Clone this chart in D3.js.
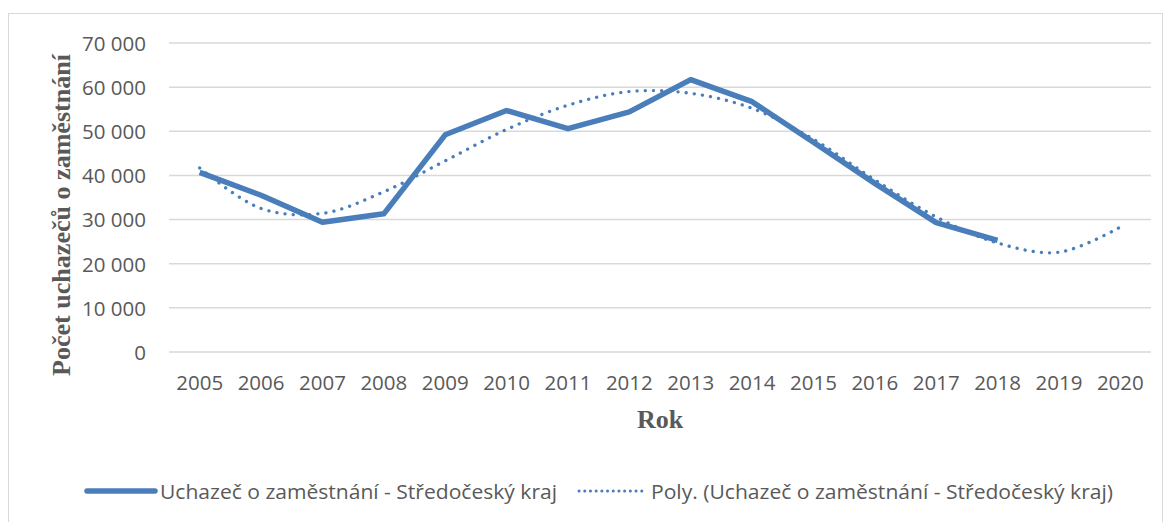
<!DOCTYPE html>
<html>
<head>
<meta charset="utf-8">
<script src="https://cdn.jsdelivr.net/npm/d3@7"></script>
<style>
  body { margin: 0; background: #fff; }
  text { font-family: "Open Sans", sans-serif; fill: #595959; }
</style>
</head>
<body>
<script>
// Width and height
var w = 1170;
var h = 522;

// Data
var years = ["2005", "2006", "2007", "2008", "2009", "2010", "2011", "2012",
             "2013", "2014", "2015", "2016", "2017", "2018", "2019", "2020"];
var uchazeci = [40700, 35500, 29400, 31300, 49200, 54700, 50600, 54400,
                61700, 56700, 47500, 38200, 29300, 25300];
var trend = [41700, 32500, 31400, 36300, 43300, 50400, 55900, 59000,
             58600, 55200, 48200, 39000, 30600, 24700, 22600, 28300];
var yTicks = [0, 10000, 20000, 30000, 40000, 50000, 60000, 70000];

var seriesName = "Uchazeč o zaměstnání - Středočeský kraj";
var trendName = "Poly. (Uchazeč o zaměstnání - Středočeský kraj)";

var blue = "#4a7ebb";

var svg = d3.select("body")
    .append("svg")
    .attr("width", w)
    .attr("height", h);

// chart border
svg.append("rect")
    .attr("x", 8.5).attr("y", 13.5)
    .attr("width", 1154).attr("height", 530)
    .attr("fill", "none")
    .attr("stroke", "#d9d9d9");

// scales
var x = d3.scaleBand()
    .domain(years)
    .range([169, 1151]);

var y = d3.scaleLinear()
    .domain([0, 70000])
    .range([352, 43]);

var fmt = function (v) {
    return d3.format(",")(v).replace(/,/g, " ");
};

// gridlines
svg.append("g")
    .selectAll("line")
    .data(yTicks)
    .enter()
    .append("line")
    .attr("x1", 169)
    .attr("x2", 1151)
    .attr("y1", function (d) { return y(d); })
    .attr("y2", function (d) { return y(d); })
    .attr("stroke", "#d9d9d9")
    .attr("stroke-width", 1.5);

// y axis labels
var yAxis = svg.append("g")
    .attr("transform", "translate(146,0)")
    .call(d3.axisLeft(y).tickValues(yTicks).tickFormat(fmt).tickSize(0).tickPadding(0));
yAxis.select(".domain").remove();
yAxis.selectAll("text")
    .style("font-family", "'Open Sans', sans-serif")
    .style("font-size", "20.5px")
    .attr("fill", "#595959")
    .attr("dy", "0.36em");

// x axis labels
var xAxis = svg.append("g")
    .attr("transform", "translate(0,375)")
    .call(d3.axisBottom(x).tickSize(0).tickPadding(0));
xAxis.select(".domain").remove();
xAxis.selectAll("text")
    .style("font-family", "'Open Sans', sans-serif")
    .style("font-size", "20.5px")
    .attr("fill", "#595959")
    .attr("dy", "0.71em");

// axis titles
svg.append("text")
    .attr("transform", "translate(70,215) rotate(-90)")
    .attr("text-anchor", "middle")
    .style("font-family", "'Liberation Serif', serif")
    .style("font-weight", "bold")
    .style("font-size", "26px")
    .attr("textLength", 322)
    .attr("lengthAdjust", "spacingAndGlyphs")
    .text("Počet uchazečů o zaměstnání");

svg.append("text")
    .attr("x", 660)
    .attr("y", 428)
    .attr("text-anchor", "middle")
    .style("font-family", "'Liberation Serif', serif")
    .style("font-weight", "bold")
    .style("font-size", "26px")
    .text("Rok");

var cx = function (d, i) { return x(years[i]) + x.bandwidth() / 2; };

// trend line (dotted)
var trendLine = d3.line()
    .x(cx)
    .y(function (d) { return y(d); })
    .curve(d3.curveCatmullRom.alpha(0.5));

svg.append("path")
    .datum(trend)
    .attr("d", trendLine)
    .attr("fill", "none")
    .attr("stroke", blue)
    .attr("stroke-width", 3.3)
    .attr("stroke-linecap", "round")
    .attr("stroke-dasharray", "0.1,8.1");

// data line
var line = d3.line()
    .x(cx)
    .y(function (d) { return y(d); });

svg.append("path")
    .datum(uchazeci)
    .attr("d", line)
    .attr("fill", "none")
    .attr("stroke", blue)
    .attr("stroke-width", 5.5)
    .attr("stroke-linejoin", "round")
    .attr("stroke-linecap", "butt");

// legend
var legend = svg.append("g");

legend.append("line")
    .attr("x1", 87).attr("x2", 155)
    .attr("y1", 491).attr("y2", 491)
    .attr("stroke", blue)
    .attr("stroke-width", 5.5)
    .attr("stroke-linecap", "round");

legend.append("text")
    .attr("x", 160)
    .attr("y", 499)
    .style("font-size", "20px")
    .attr("textLength", 397)
    .attr("lengthAdjust", "spacingAndGlyphs")
    .text(seriesName);

legend.append("line")
    .attr("x1", 579).attr("x2", 647)
    .attr("y1", 491).attr("y2", 491)
    .attr("stroke", blue)
    .attr("stroke-width", 3)
    .attr("stroke-linecap", "round")
    .attr("stroke-dasharray", "0.1,5.6");

legend.append("text")
    .attr("x", 651)
    .attr("y", 499)
    .style("font-size", "20px")
    .attr("textLength", 462)
    .attr("lengthAdjust", "spacingAndGlyphs")
    .text(trendName);
</script>
</body>
</html>
